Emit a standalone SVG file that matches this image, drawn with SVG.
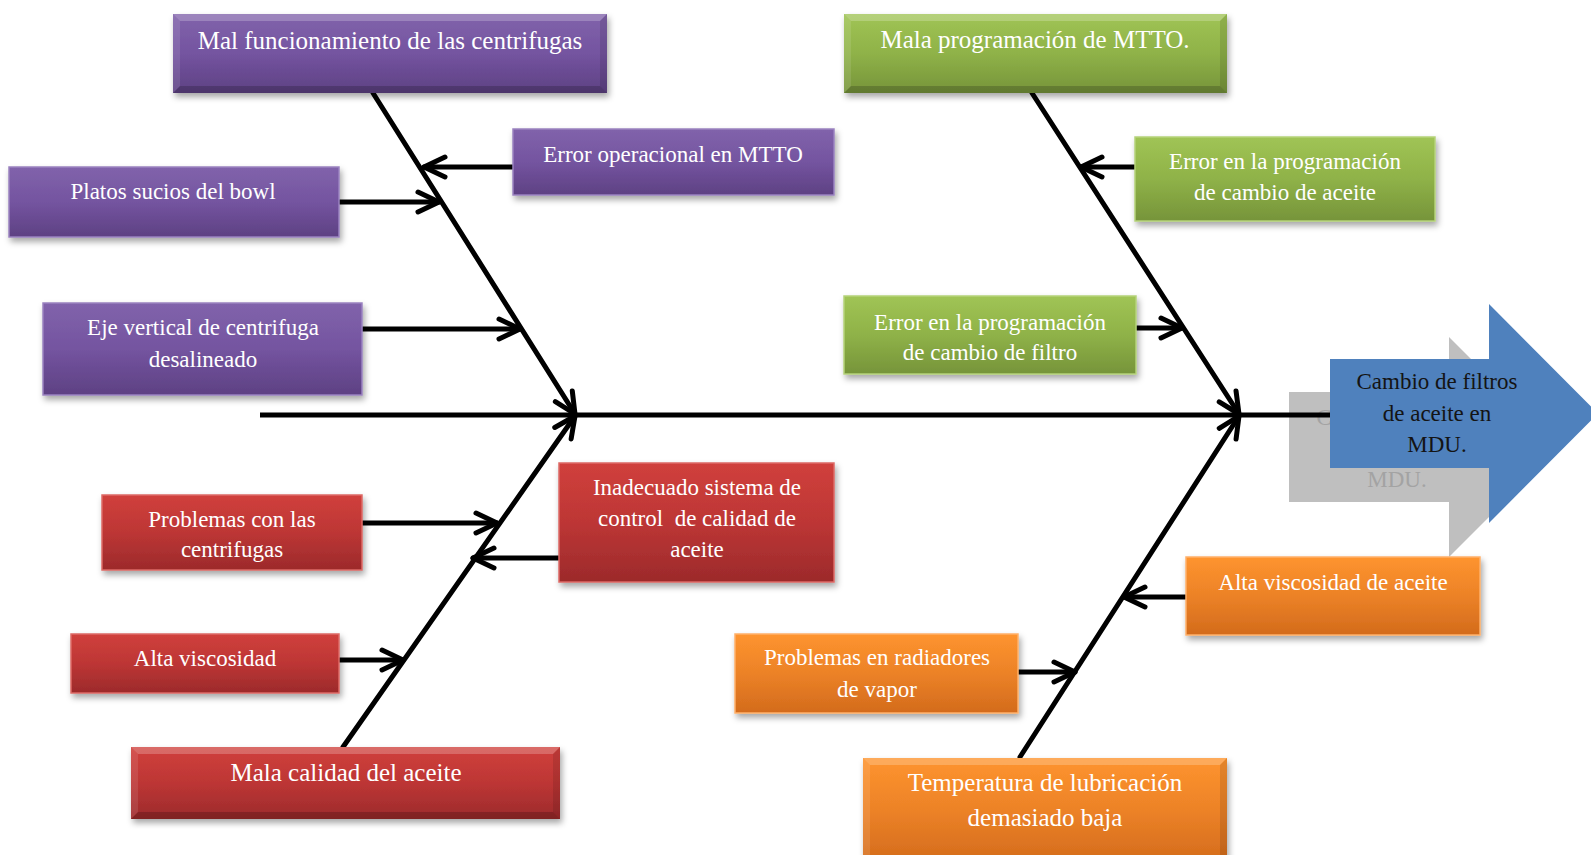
<svg xmlns="http://www.w3.org/2000/svg" width="1591" height="855" viewBox="0 0 1591 855">
  <defs>
    <linearGradient id="gPu" x1="0" y1="0" x2="0" y2="1">
      <stop offset="0" stop-color="#8163ab"/>
      <stop offset="0.5" stop-color="#7454a0"/>
      <stop offset="1" stop-color="#5e4183"/>
    </linearGradient>
    <linearGradient id="gGr" x1="0" y1="0" x2="0" y2="1">
      <stop offset="0" stop-color="#a0c455"/>
      <stop offset="0.5" stop-color="#8fb248"/>
      <stop offset="1" stop-color="#76943a"/>
    </linearGradient>
    <linearGradient id="gRd" x1="0" y1="0" x2="0" y2="1">
      <stop offset="0" stop-color="#d0403c"/>
      <stop offset="0.5" stop-color="#bd3635"/>
      <stop offset="1" stop-color="#9c2a2b"/>
    </linearGradient>
    <linearGradient id="gOr" x1="0" y1="0" x2="0" y2="1">
      <stop offset="0" stop-color="#fe942f"/>
      <stop offset="0.5" stop-color="#ec8227"/>
      <stop offset="1" stop-color="#d36b1c"/>
    </linearGradient>
    <filter id="shadow" x="-10%" y="-20%" width="120%" height="150%">
      <feDropShadow dx="2" dy="4" stdDeviation="3" flood-color="#000" flood-opacity="0.35"/>
    </filter>
    <!-- area of the grey copy that stays visible beside the blue arrow -->
    <clipPath id="ghostClip">
      <path d="M1280,330 H1330 V468 H1489 V560 H1280 Z"/>
    </clipPath>
    <marker id="head" markerUnits="userSpaceOnUse" viewBox="-26 -14 30 28" refX="0" refY="0" markerWidth="30" markerHeight="28" orient="auto" overflow="visible">
      <path d="M-21,-10 L0,0 L-21,10" fill="none" stroke="#000" stroke-width="5" stroke-linecap="round" stroke-linejoin="round"/>
    </marker>
  </defs>
  <style>
    .pu { fill: url(#gPu); }
    .gr { fill: url(#gGr); }
    .rd { fill: url(#gRd); }
    .or { fill: url(#gOr); }
    .box { filter: url(#shadow); }
    .pu.edge { stroke: #9a82c0; stroke-width: 1.5; }
    .gr.edge { stroke: #b5d27a; stroke-width: 1.5; }
    .rd.edge { stroke: #dd6a66; stroke-width: 1.5; }
    .or.edge { stroke: #ffb06a; stroke-width: 1.5; }
    .bt { fill: #ffffff; fill-opacity: 0.22; }
    .bb { fill: #000000; fill-opacity: 0.18; }
    .bl { fill: #ffffff; fill-opacity: 0.10; }
    .br { fill: #000000; fill-opacity: 0.10; }
    text { font-family: "Liberation Serif", "DejaVu Serif", serif; text-anchor: middle; fill: #ffffff; }
    .t25 { font-size: 25px; }
    .t23 { font-size: 23px; }
    .dark { fill: #141414; }
    .ghost { fill: #a3a3a3; }
    .bone { fill: none; stroke: #000; stroke-width: 5; stroke-linecap: round; marker-end: url(#head); }
    .spine { fill: none; stroke: #000; stroke-width: 5; }
  </style>

  <!-- effect: grey copy of the head arrow -->
  <g id="effect-ghost">
    <polygon points="1289,392 1449,392 1449,337 1559,447 1449,557 1449,502 1289,502" fill="#bfbfbf"/>
    <g clip-path="url(#ghostClip)">
      <text class="t23 ghost" x="1397" y="425">Cambio de filtros</text>
      <text class="t23 ghost" x="1397" y="487">MDU.</text>
    </g>
  </g>

  <!-- connectors: spine, main bones and sub-causes -->
  <g id="connectors">
    <line class="spine" x1="260" y1="415" x2="1332" y2="415"/>
    <line class="bone" x1="373" y1="93" x2="575" y2="414"/>
    <line class="bone" x1="343" y1="747" x2="575" y2="416"/>
    <line class="bone" x1="1032" y1="93" x2="1239" y2="414"/>
    <line class="bone" x1="1020" y1="757" x2="1239" y2="416"/>
    <line class="bone" x1="513" y1="167" x2="424" y2="167"/>
    <line class="bone" x1="339" y1="202" x2="439" y2="202"/>
    <line class="bone" x1="362" y1="329" x2="520" y2="329"/>
    <line class="bone" x1="1135" y1="167" x2="1081" y2="167"/>
    <line class="bone" x1="1136" y1="328" x2="1182" y2="328"/>
    <line class="bone" x1="362" y1="523" x2="497" y2="523"/>
    <line class="bone" x1="559" y1="558" x2="473" y2="558"/>
    <line class="bone" x1="339" y1="660" x2="403" y2="660"/>
    <line class="bone" x1="1186" y1="597" x2="1124" y2="597"/>
    <line class="bone" x1="1018" y1="672" x2="1075" y2="672"/>
  </g>

  <!-- effect: head arrow -->
  <g id="effect">
    <polygon points="1330,359 1489,359 1489,304 1598,413.5 1489,523 1489,468 1330,468" fill="#4f81bd"/>
    <text class="t23 dark" x="1437" y="389">Cambio de filtros</text>
    <text class="t23 dark" x="1437" y="421">de aceite en</text>
    <text class="t23 dark" x="1437" y="452">MDU.</text>
  </g>

  <!-- main categories (bevelled boxes) -->
  <g id="cat-centrifugas">
    <rect class="pu box" x="173" y="14" width="434" height="79"/>
    <polygon class="bt" points="173,14 607,14 600,21 180,21"/>
    <polygon class="bb" points="173,93 607,93 600,86 180,86"/>
    <polygon class="bl" points="173,14 180,21 180,86 173,93"/>
    <polygon class="br" points="607,14 600,21 600,86 607,93"/>
    <text class="t25" x="390" y="49">Mal funcionamiento de las centrifugas</text>
  </g>

  <g id="cat-programacion">
    <rect class="gr box" x="844" y="14" width="383" height="79"/>
    <polygon class="bt" points="844,14 1227,14 1220,21 851,21"/>
    <polygon class="bb" points="844,93 1227,93 1220,86 851,86"/>
    <polygon class="bl" points="844,14 851,21 851,86 844,93"/>
    <polygon class="br" points="1227,14 1220,21 1220,86 1227,93"/>
    <text class="t25" x="1035" y="48">Mala programación de MTTO.</text>
  </g>

  <g id="cat-calidad">
    <rect class="rd box" x="131" y="747" width="429" height="72"/>
    <polygon class="bt" points="131,747 560,747 553,754 138,754"/>
    <polygon class="bb" points="131,819 560,819 553,812 138,812"/>
    <polygon class="bl" points="131,747 138,754 138,812 131,819"/>
    <polygon class="br" points="560,747 553,754 553,812 560,819"/>
    <text class="t25" x="346" y="781">Mala calidad del aceite</text>
  </g>

  <g id="cat-temperatura">
    <rect class="or box" x="863" y="758" width="364" height="106"/>
    <polygon class="bt" points="863,758 1227,758 1220,765 870,765"/>
    <polygon class="bl" points="863,758 870,765 870,864 863,864"/>
    <polygon class="br" points="1227,758 1220,765 1220,864 1227,864"/>
    <text class="t25" x="1045" y="791">Temperatura de lubricación</text>
    <text class="t25" x="1045" y="826">demasiado baja</text>
  </g>

  <!-- sub-causes -->
  <g id="cause-error-operacional">
    <rect class="pu edge box" x="513" y="129" width="321" height="66"/>
    <text class="t23" x="673" y="162">Error operacional en MTTO</text>
  </g>

  <g id="cause-platos">
    <rect class="pu edge box" x="9" y="167" width="330" height="70"/>
    <text class="t23" x="173" y="199">Platos sucios del bowl</text>
  </g>

  <g id="cause-eje">
    <rect class="pu edge box" x="43" y="303" width="319" height="92"/>
    <text class="t23" x="203" y="335">Eje vertical de centrifuga</text>
    <text class="t23" x="203" y="367">desalineado</text>
  </g>

  <g id="cause-prog-aceite">
    <rect class="gr edge box" x="1135" y="137" width="300" height="84"/>
    <text class="t23" x="1285" y="169">Error en la programación</text>
    <text class="t23" x="1285" y="200">de cambio de aceite</text>
  </g>

  <g id="cause-prog-filtro">
    <rect class="gr edge box" x="844" y="296" width="292" height="78"/>
    <text class="t23" x="990" y="330">Error en la programación</text>
    <text class="t23" x="990" y="360">de cambio de filtro</text>
  </g>

  <g id="cause-problemas-centrifugas">
    <rect class="rd edge box" x="102" y="495" width="260" height="75"/>
    <text class="t23" x="232" y="527">Problemas con las</text>
    <text class="t23" x="232" y="557">centrifugas</text>
  </g>

  <g id="cause-inadecuado">
    <rect class="rd edge box" x="559" y="463" width="275" height="119"/>
    <text class="t23" x="697" y="495">Inadecuado sistema de</text>
    <text class="t23" x="697" y="526" xml:space="preserve">control  de calidad de</text>
    <text class="t23" x="697" y="557">aceite</text>
  </g>

  <g id="cause-alta-viscosidad">
    <rect class="rd edge box" x="71" y="634" width="268" height="59"/>
    <text class="t23" x="205" y="666">Alta viscosidad</text>
  </g>

  <g id="cause-radiadores">
    <rect class="or edge box" x="735" y="634" width="283" height="79"/>
    <text class="t23" x="877" y="665">Problemas en radiadores</text>
    <text class="t23" x="877" y="697">de vapor</text>
  </g>

  <g id="cause-viscosidad-aceite">
    <rect class="or edge box" x="1186" y="557" width="294" height="78"/>
    <text class="t23" x="1333" y="590">Alta viscosidad de aceite</text>
  </g>
</svg>
